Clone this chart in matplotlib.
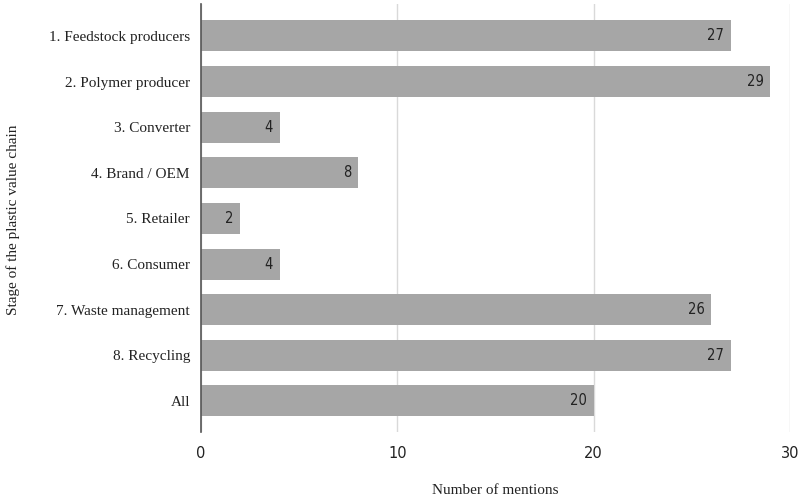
import matplotlib as mpl
mpl.use('Agg')

import matplotlib.pyplot as plt

stages = ['1. Feedstock producers', '2. Polymer producer', '3. Converter',
          '4. Brand / OEM', '5. Retailer', '6. Consumer',
          '7. Waste management', '8. Recycling', 'All']
mentions = [27, 29, 4, 8, 2, 4, 26, 27, 20]

serif = 'Liberation Serif'
sans = 'DejaVu Sans'

fig = plt.figure(figsize=(7.99, 5.0), dpi=100)
ax = fig.add_axes([0.2516, 0.136, 0.7371, 0.856])

pos = list(range(len(stages)))
bars = ax.barh(pos, mentions, height=0.68, color='#a6a6a6', zorder=2)

# value labels sit inside the end of each bar
for y, v in zip(pos, mentions):
    ax.annotate(str(v), (v, y), xytext=(-5, 0), textcoords='offset points',
                ha='right', va='center', fontsize=10.5, family=sans,
                stretch='condensed', color='#222222', zorder=3)

ax.set_xlim(0, 30)
ax.set_ylim(8.68, -0.70)
ax.set_xticks([0, 10, 20, 30])
ax.set_yticks(pos)
ax.set_yticklabels(stages, family=serif, fontsize=11, color='#222222')
for lbl in ax.get_xticklabels():
    lbl.set_family(sans)
    lbl.set_fontsize(10.5)
    lbl.set_color('#222222')
ax.tick_params(axis='both', length=0)
ax.tick_params(axis='x', pad=10)
ax.tick_params(axis='y', pad=8)

ax.grid(axis='x', color='#d9d9d9', linewidth=1, zorder=0)
for s in ['top', 'right', 'bottom']:
    ax.spines[s].set_visible(False)
ax.spines['left'].set_color('#555555')
ax.spines['left'].set_linewidth(1.2)
ax.spines['left'].set_zorder(4)

fig.text(0.62, 0.02, 'Number of mentions', ha='center', va='center',
         family=serif, fontsize=11, color='#222222')
fig.text(0.016, 0.56, 'Stage of the plastic value chain', ha='center', va='center',
         rotation=90, family=serif, fontsize=11, color='#222222')

fig.savefig('out.png', dpi=100)
